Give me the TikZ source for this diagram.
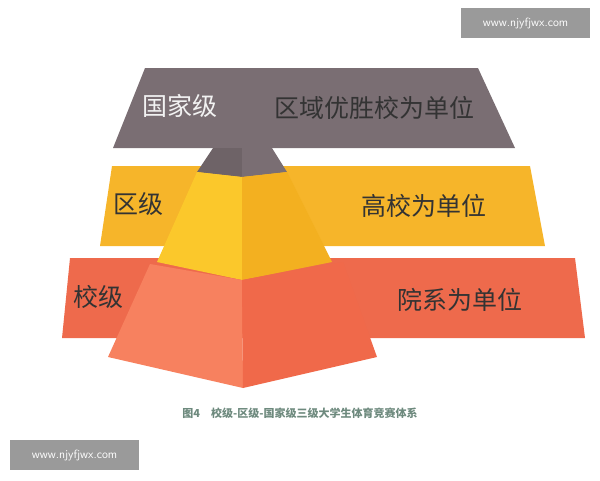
\documentclass[tikz,border=0pt]{standalone}
\usepackage{fontspec}
\newfontfamily\cjk{Noto Sans CJK SC}
\definecolor{gr}{HTML}{7A6E73}
\definecolor{grd}{HTML}{6E6367}
\definecolor{ye}{HTML}{F6B52A}
\definecolor{yel}{HTML}{FBC82B}
\definecolor{yer}{HTML}{F3B020}
\definecolor{re}{HTML}{EE6A4C}
\definecolor{rel}{HTML}{F7815F}
\definecolor{rer}{HTML}{F0694A}
\definecolor{cap}{HTML}{6E8A7E}
\definecolor{wm}{HTML}{9A9A9A}
\begin{document}
\begin{tikzpicture}[x=1pt,y=-1pt,
  lab/.style={font=\cjk\fontsize{25}{27}\selectfont,text=black!80},
  wmk/.style={fill=wm,text=white,font=\sffamily\fontsize{12}{14}\selectfont,minimum width=129pt,minimum height=30pt,inner sep=0}]
\useasboundingbox (0,0) rectangle (600,480);
% bands
\fill[gr] (145,68) -- (478,68) -- (515,148) -- (113,148) -- cycle;
\fill[ye] (112,166) -- (530,166) -- (545,246) -- (100,246) -- cycle;
\fill[re] (70,258) -- (575,258) -- (585,338) -- (62,338) -- cycle;
% stem
\fill[grd] (213,148) -- (242,148) -- (242,177) -- (197,172) -- cycle;
\fill[gr] (242,148) -- (272,148) -- (287,172) -- (242,177) -- cycle;
% yellow section
\fill[yel] (197,172) -- (242,177) -- (242,280) -- (157,262) -- cycle;
\fill[yer] (242,177) -- (287,172) -- (332,262) -- (242,280) -- cycle;
% red section
\fill[rel] (150,264) -- (242,280) -- (243,388) -- (108,357) -- cycle;
\fill[rer] (242,280) -- (343,262) -- (377,357) -- (243,388) -- cycle;
% labels
\node[lab,text=white!90!gray] (n1) at (180,106) {国家级};
\node[lab] (n2) at (374,108) {区域优胜校为单位};
\node[lab] (n3) at (138,204) {区级};
\node[lab] (n4) at (424,206) {高校为单位};
\node[lab] (n5) at (98,297) {校级};
\node[lab] (n6) at (460,300) {院系为单位};
\node[font=\cjk\bfseries\fontsize{11}{13}\selectfont,text=cap] (c) at (300,413) {图4\quad 校级-区级-国家级三级大学生体育竞赛体系};
\node[wmk] (w1) at (525.5,23) {www.njyfjwx.com};
\node[wmk] (w2) at (74.5,455) {www.njyfjwx.com};
\end{tikzpicture}
\end{document}
